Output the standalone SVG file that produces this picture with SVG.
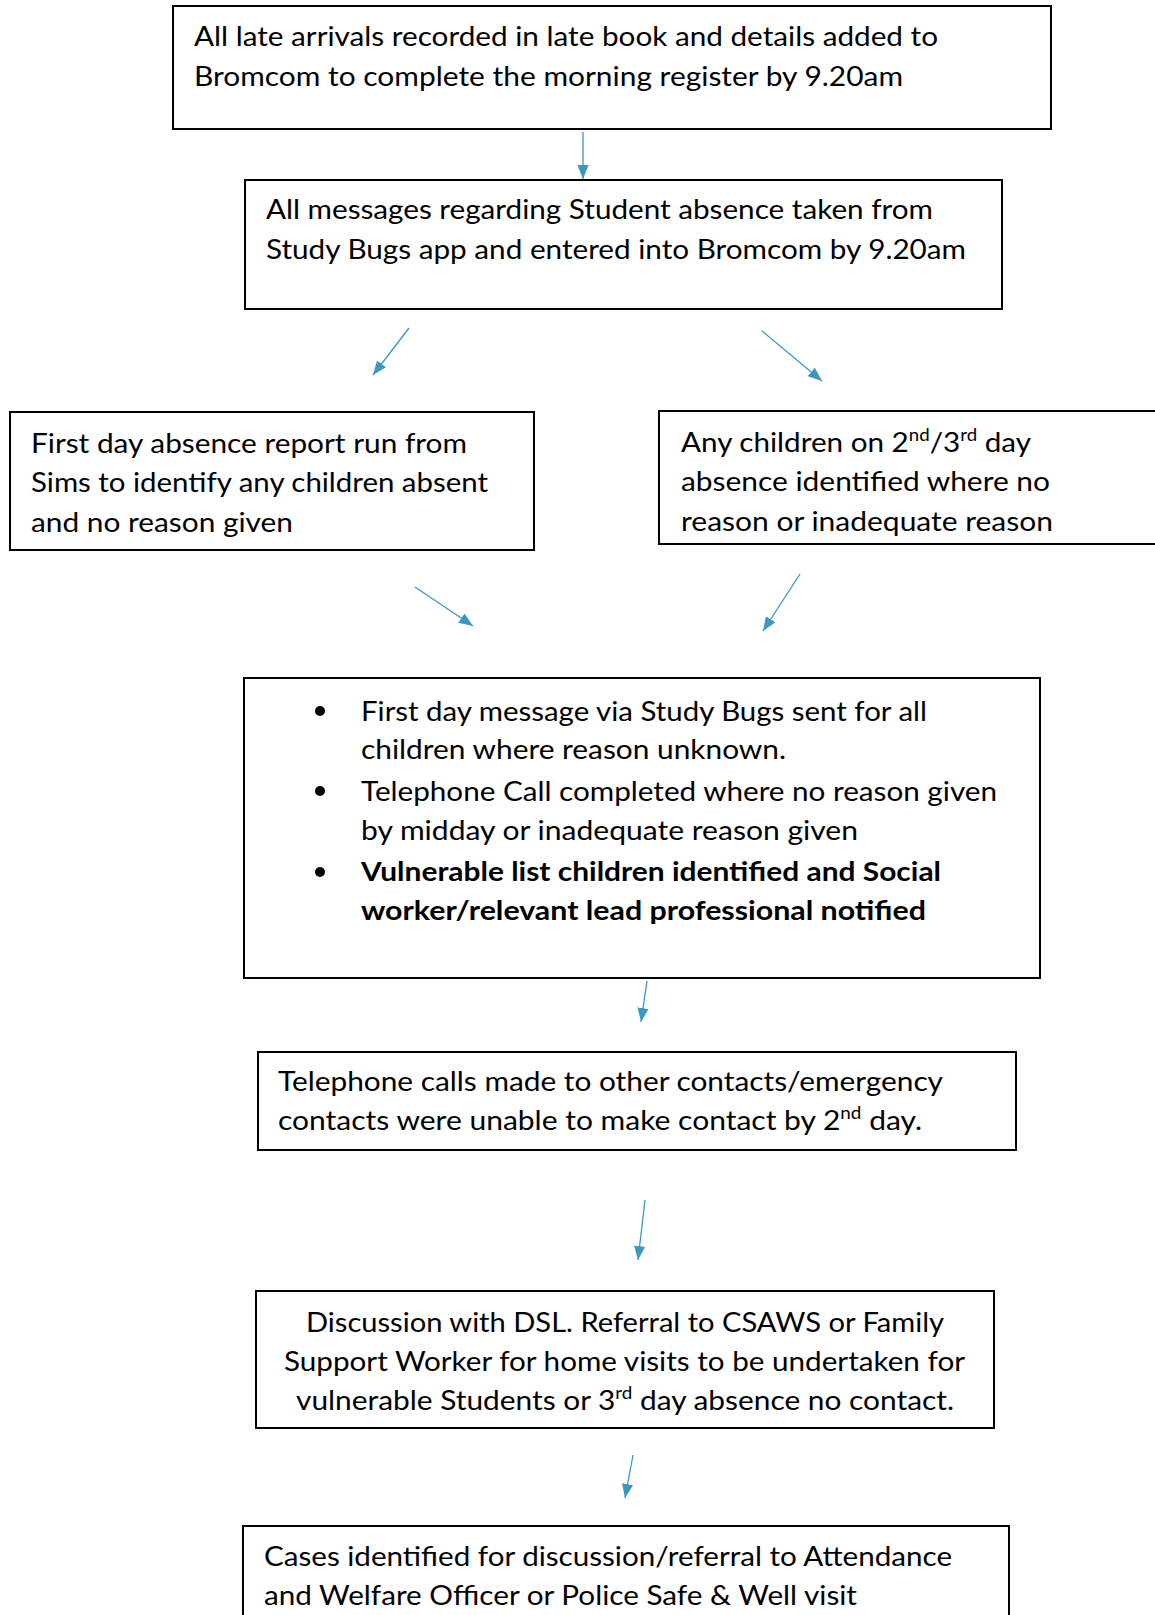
<svg xmlns="http://www.w3.org/2000/svg" width="1155" height="1615" viewBox="0 0 1155 1615">
<style>
.box{fill:#fff;stroke:#000;stroke-width:2}
.t{font-family:Lato,"Open Sans","Liberation Sans",sans-serif;font-size:27px;fill:#000}
.b{font-weight:bold}
.c{stroke:#3C97C0;stroke-width:1.3;fill:none}
.sup{font-size:17px}
</style>
<defs>
<marker id="ah" viewBox="0 0 10 10" refX="10" refY="5" markerWidth="14" markerHeight="14" markerUnits="userSpaceOnUse" orient="auto">
<path d="M0,1 L10,5 L0,9 Z" fill="#3C97C0"/>
</marker>
</defs>
<rect width="1155" height="1615" fill="#fff"/>
<g id="connectors">
<line class="c" x1="583" y1="132" x2="583" y2="179" marker-end="url(#ah)"/>
<line class="c" x1="409" y1="328" x2="373" y2="375" marker-end="url(#ah)"/>
<line class="c" x1="762" y1="331" x2="822" y2="381" marker-end="url(#ah)"/>
<line class="c" x1="415" y1="587" x2="473" y2="626" marker-end="url(#ah)"/>
<line class="c" x1="800" y1="574" x2="763" y2="631" marker-end="url(#ah)"/>
<line class="c" x1="647" y1="981" x2="641" y2="1022" marker-end="url(#ah)"/>
<line class="c" x1="645" y1="1200" x2="638" y2="1260" marker-end="url(#ah)"/>
<line class="c" x1="633" y1="1455" x2="625" y2="1498" marker-end="url(#ah)"/>
</g>
<g id="n1">
<rect class="box" x="173" y="6" width="878" height="123"/>
<text class="t" x="194" y="46" textLength="744" lengthAdjust="spacingAndGlyphs">All late arrivals recorded in late book and details added to</text>
<text class="t" x="194" y="86" textLength="709" lengthAdjust="spacingAndGlyphs">Bromcom to complete the morning register by 9.20am</text>
</g>
<g id="n2">
<rect class="box" x="245" y="180" width="757" height="129"/>
<text class="t" x="266" y="219" textLength="667" lengthAdjust="spacingAndGlyphs">All messages regarding Student absence taken from</text>
<text class="t" x="266" y="259" textLength="700" lengthAdjust="spacingAndGlyphs">Study Bugs app and entered into Bromcom by 9.20am</text>
</g>
<g id="n3">
<rect class="box" x="10" y="412" width="524" height="138"/>
<text class="t" x="31" y="453" textLength="436" lengthAdjust="spacingAndGlyphs">First day absence report run from</text>
<text class="t" x="31" y="492" textLength="457" lengthAdjust="spacingAndGlyphs">Sims to identify any children absent</text>
<text class="t" x="31" y="532" textLength="262" lengthAdjust="spacingAndGlyphs">and no reason given</text>
</g>
<g id="n4">
<rect class="box" x="659" y="411" width="510" height="133"/>
<text class="t" x="681" y="452" textLength="350" lengthAdjust="spacingAndGlyphs">Any children on 2<tspan class="sup" dy="-11">nd</tspan><tspan dy="11">/3</tspan><tspan class="sup" dy="-11">rd</tspan><tspan dy="11"> day</tspan></text>
<text class="t" x="681" y="491" textLength="369" lengthAdjust="spacingAndGlyphs">absence identified where no</text>
<text class="t" x="681" y="531" textLength="372" lengthAdjust="spacingAndGlyphs">reason or inadequate reason</text>
</g>
<g id="n5">
<rect class="box" x="244" y="678" width="796" height="300"/>
<circle cx="320" cy="711" r="5"/>
<circle cx="320" cy="791" r="5"/>
<circle cx="320" cy="872" r="5"/>
<text class="t" x="361" y="721" textLength="566" lengthAdjust="spacingAndGlyphs">First day message via Study Bugs sent for all</text>
<text class="t" x="361" y="759" textLength="425" lengthAdjust="spacingAndGlyphs">children where reason unknown.</text>
<text class="t" x="361" y="801" textLength="636" lengthAdjust="spacingAndGlyphs">Telephone Call completed where no reason given</text>
<text class="t" x="361" y="840" textLength="497" lengthAdjust="spacingAndGlyphs">by midday or inadequate reason given</text>
<text class="t b" x="361" y="881" textLength="580" lengthAdjust="spacingAndGlyphs">Vulnerable list children identified and Social</text>
<text class="t b" x="361" y="920" textLength="565" lengthAdjust="spacingAndGlyphs">worker/relevant lead professional notified</text>
</g>
<g id="n6">
<rect class="box" x="258" y="1052" width="758" height="98"/>
<text class="t" x="278" y="1091" textLength="665" lengthAdjust="spacingAndGlyphs">Telephone calls made to other contacts/emergency</text>
<text class="t" x="278" y="1130" textLength="644" lengthAdjust="spacingAndGlyphs">contacts were unable to make contact by 2<tspan class="sup" dy="-11">nd</tspan><tspan dy="11"> day.</tspan></text>
</g>
<g id="n7">
<rect class="box" x="256" y="1291" width="738" height="137"/>
<text class="t" x="306" y="1332" textLength="638" lengthAdjust="spacingAndGlyphs">Discussion with DSL. Referral to CSAWS or Family</text>
<text class="t" x="284" y="1371" textLength="681" lengthAdjust="spacingAndGlyphs">Support Worker for home visits to be undertaken for</text>
<text class="t" x="296" y="1410" textLength="658" lengthAdjust="spacingAndGlyphs">vulnerable Students or 3<tspan class="sup" dy="-11">rd</tspan><tspan dy="11"> day absence no contact.</tspan></text>
</g>
<g id="n8">
<rect class="box" x="243" y="1526" width="766" height="100"/>
<text class="t" x="264" y="1566" textLength="688" lengthAdjust="spacingAndGlyphs">Cases identified for discussion/referral to Attendance</text>
<text class="t" x="264" y="1605" textLength="593" lengthAdjust="spacingAndGlyphs">and Welfare Officer or Police Safe &amp; Well visit</text>
</g>
</svg>
